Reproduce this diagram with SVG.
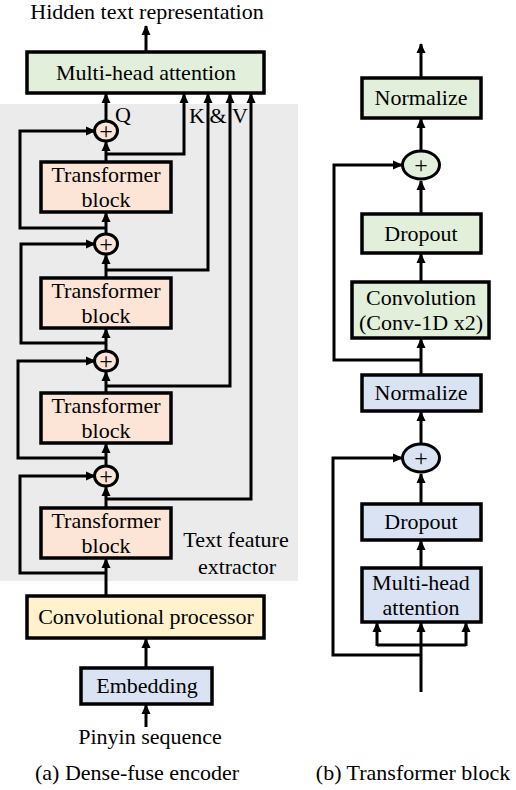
<svg xmlns="http://www.w3.org/2000/svg" width="516" height="790" viewBox="0 0 516 790">
<style>
.t text{font-size:22px;fill:#000;text-anchor:middle}
.t .pl{font-size:24px}
.box{stroke:#000;stroke-width:3.5}
.g{fill:#e2efda}.p{fill:#fce4d6}.y{fill:#fff2cc}.b{fill:#dae3f3}
.c{stroke:#000;stroke-width:3}
.ln{fill:none;stroke:#000;stroke-width:3}
.ar{fill:none;stroke:#000;stroke-width:3;marker-end:url(#ah)}
</style>
<defs>
<marker id="ah" markerUnits="userSpaceOnUse" markerWidth="10" markerHeight="10" viewBox="0 0 10 10" refX="9" refY="5" orient="auto">
<path d="M0,0.5 L10,5 L0,9.5 Z" fill="#000"/>
</marker>
</defs>
<rect x="0" y="104" width="298" height="477" fill="#ebebeb"/>
<g id="connectors">
<path class="ar" d="M146,52 V26"/>
<path class="ar" d="M106,121 V94"/>
<path class="ar" d="M106,162 V142"/>
<path class="ar" d="M106,154 H184 V94"/>
<path class="ar" d="M106,234 V213"/>
<path class="ar" d="M106,228 H20 V131 H95"/>
<path class="ar" d="M106,278 V255"/>
<path class="ar" d="M106,270 H208 V94"/>
<path class="ar" d="M106,351 V329"/>
<path class="ar" d="M106,343 H21 V244 H95"/>
<path class="ar" d="M106,393 V372"/>
<path class="ar" d="M106,386 H230 V94"/>
<path class="ar" d="M106,466 V444"/>
<path class="ar" d="M106,458 H18 V361 H95"/>
<path class="ar" d="M106,508 V487"/>
<path class="ar" d="M106,499 H251 V94"/>
<path class="ar" d="M106,596 V559"/>
<path class="ar" d="M106,573 H20 V476 H95"/>
<path class="ar" d="M146,668 V639"/>
<path class="ar" d="M146,727 V705"/>
<path class="ar" d="M421,78 V44"/>
<path class="ar" d="M421,150 V119"/>
<path class="ar" d="M421,214 V181"/>
<path class="ar" d="M421,282 V254"/>
<path class="ar" d="M421,375 V339"/>
<path class="ar" d="M421,360 H334 V165 H402"/>
<path class="ar" d="M421,443 V412"/>
<path class="ar" d="M421,504 V474"/>
<path class="ar" d="M421,568 V541"/>
<path class="ar" d="M421,655 H333 V458 H402"/>
<path class="ar" d="M421,692 V623"/>
<path class="ln" d="M377,645 H466"/>
<path class="ar" d="M377,646 V623"/>
<path class="ar" d="M466,646 V623"/>
</g>
<g class="t" font-family="Liberation Serif, Times New Roman, serif">
<g id="caption-hidden"><text x="147" y="19">Hidden text representation</text></g>
<g id="mha-top"><rect class="box g" x="27" y="52" width="237" height="41"/><text x="146" y="80">Multi-head attention</text></g>
<g id="qkv-labels"><text x="123" y="122">Q</text><text x="197" y="123">K</text><text x="218" y="123">&amp;</text><text x="240" y="123">V</text></g>
<g id="plus1"><ellipse class="c p" cx="106" cy="131" rx="11.5" ry="10"/><text class="pl" x="106" y="139">+</text></g>
<g id="tb1"><rect class="box p" x="41" y="162" width="130" height="50"/><text x="106" y="182">Transformer</text><text x="106" y="207">block</text></g>
<g id="plus2"><ellipse class="c p" cx="106" cy="244" rx="11.5" ry="10"/><text class="pl" x="106" y="252">+</text></g>
<g id="tb2"><rect class="box p" x="41" y="278" width="130" height="50"/><text x="106" y="298">Transformer</text><text x="106" y="323">block</text></g>
<g id="plus3"><ellipse class="c p" cx="106" cy="361" rx="11.5" ry="10"/><text class="pl" x="106" y="369">+</text></g>
<g id="tb3"><rect class="box p" x="41" y="393" width="130" height="50"/><text x="106" y="413">Transformer</text><text x="106" y="438">block</text></g>
<g id="plus4"><ellipse class="c p" cx="106" cy="476" rx="11.5" ry="10"/><text class="pl" x="106" y="484">+</text></g>
<g id="tb4"><rect class="box p" x="41" y="508" width="130" height="50"/><text x="106" y="528">Transformer</text><text x="106" y="553">block</text></g>
<g id="tfe-label"><text x="236" y="547">Text feature</text><text x="237" y="574">extractor</text></g>
<g id="conv-proc"><rect class="box y" x="27" y="596" width="237" height="42"/><text x="146" y="624">Convolutional processor</text></g>
<g id="embedding"><rect class="box b" x="81" y="668" width="131" height="36"/><text x="147" y="693">Embedding</text></g>
<g id="pinyin"><text x="150" y="744">Pinyin sequence</text></g>
<g id="caption-a"><text x="137" y="780">(a) Dense-fuse encoder</text></g>
<g id="norm-top"><rect class="box g" x="362" y="78" width="119" height="40"/><text x="421" y="105">Normalize</text></g>
<g id="plus-r1"><ellipse class="c g" cx="421" cy="165" rx="18.5" ry="14"/><text class="pl" x="421" y="173">+</text></g>
<g id="dropout-g"><rect class="box g" x="362" y="214" width="119" height="39"/><text x="421" y="241">Dropout</text></g>
<g id="convolution"><rect class="box g" x="352" y="282" width="137" height="56"/><text x="421" y="305">Convolution</text><text x="421" y="330">(Conv-1D x2)</text></g>
<g id="norm-b"><rect class="box b" x="362" y="375" width="119" height="36"/><text x="421" y="400">Normalize</text></g>
<g id="plus-r2"><ellipse class="c b" cx="421" cy="458" rx="18.5" ry="14"/><text class="pl" x="421" y="466">+</text></g>
<g id="dropout-b"><rect class="box b" x="362" y="504" width="119" height="36"/><text x="421" y="529">Dropout</text></g>
<g id="mha-b"><rect class="box b" x="362" y="568" width="119" height="54"/><text x="421" y="590">Multi-head</text><text x="421" y="615">attention</text></g>
<g id="caption-b"><text x="413" y="780">(b) Transformer block</text></g>
</g>
</svg>
